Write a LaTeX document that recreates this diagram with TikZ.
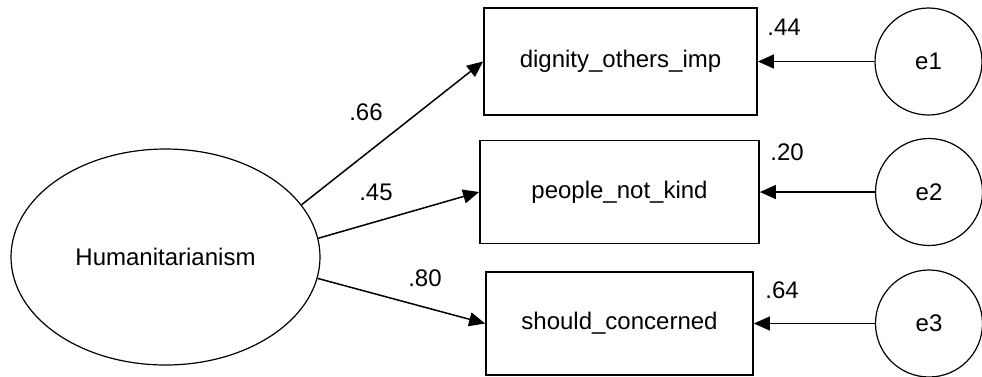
\documentclass[tikz,border=0pt]{standalone}
\usepackage{fontspec}
\setmainfont{Liberation Sans}
\usetikzlibrary{arrows.meta,shapes.geometric}
\begin{document}
\begin{tikzpicture}[x=1pt,y=-1pt,
  font=\fontsize{24}{28}\selectfont,
  latent/.style={draw,ellipse,line width=1.2pt,inner sep=0pt,
    minimum width=309pt,minimum height=216pt},
  observed/.style={draw,rectangle,line width=1.8pt,inner sep=0pt},
  err/.style={draw,circle,line width=1.2pt,inner sep=0pt,minimum size=107pt},
  path/.style={line width=1.5pt,-{Triangle[length=16pt,width=14pt]}},
  coef/.style={inner sep=0pt}]
\useasboundingbox (0,0) rectangle (982,376);

% latent factor
\node[latent] (H) at (165.5,257) {Humanitarianism};

% indicators
\node[observed,minimum width=273pt,minimum height=107pt] (b1) at (620.5,61.5) {dignity\_others\_imp};
\node[observed,minimum width=279pt,minimum height=103pt] (b2) at (619.5,192) {people\_not\_kind};
\node[observed,minimum width=267pt,minimum height=103pt] (b3) at (619.5,323.5) {should\_concerned};

% error terms
\node[err] (e1) at (928.5,61.5) {e1};
\node[err] (e2) at (929,192) {e2};
\node[err] (e3) at (929,323.5) {e3};

% factor loadings
\draw[path] (H.21.8) -- (b1.west);
\draw[path] (H.7.4) -- (b2.west);
\draw[path] (H.-8.2) -- (b3.west);

% error paths
\draw[path] (e1.west) -- (b1.east);
\draw[path] (e2.west) -- (b2.east);
\draw[path] (e3.west) -- (b3.east);

% standardized estimates
\node[coef] (l1) at (366,112) {.66};
\node[coef] (l2) at (376,192) {.45};
\node[coef] (l3) at (425,278) {.80};
\node[coef] (r1) at (784,27) {.44};
\node[coef] (r2) at (787,152) {.20};
\node[coef] (r3) at (782,290) {.64};
\end{tikzpicture}
\end{document}
